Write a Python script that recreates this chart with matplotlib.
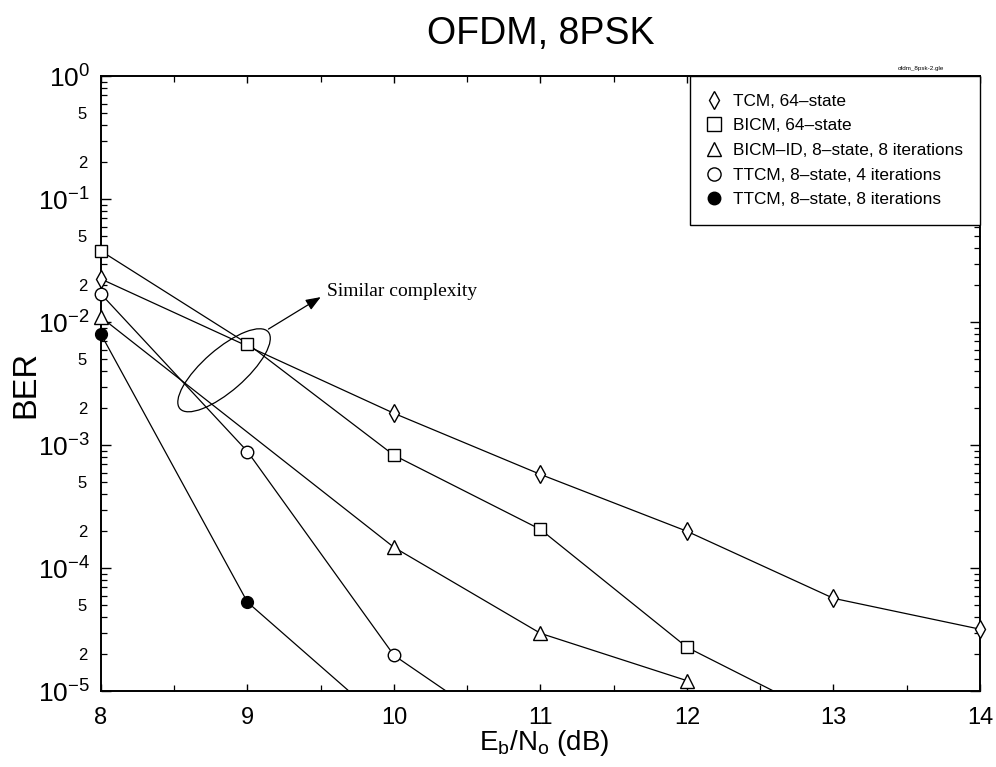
import matplotlib
matplotlib.use("Agg")
import matplotlib.pyplot as plt
import numpy as np
from matplotlib.lines import Line2D
from matplotlib.patches import Ellipse
from matplotlib.ticker import FixedLocator, FixedFormatter
import matplotlib.transforms as mtransforms

plt.rcParams['font.family'] = ['Liberation Sans', 'DejaVu Sans']
plt.rcParams['mathtext.fontset'] = 'custom'
plt.rcParams['mathtext.rm'] = 'Liberation Sans'
plt.rcParams['mathtext.it'] = 'Liberation Sans'
plt.rcParams['mathtext.bf'] = 'Liberation Sans:bold'

# Eb/No (dB) and BER for each scheme
snr_tcm = [8, 10, 11, 12, 13, 14]
ber_tcm = [2.25e-2, 1.82e-3, 5.8e-4, 2.0e-4, 5.7e-5, 3.2e-5]

snr_bicm = [8, 9, 10, 11, 12, 13]
ber_bicm = [3.8e-2, 6.7e-3, 8.3e-4, 2.07e-4, 2.28e-5, 5.7e-6]

snr_bicmid = [8, 10, 11, 12]
ber_bicmid = [1.1e-2, 1.48e-4, 2.96e-5, 1.22e-5]

snr_ttcm4 = [8, 9, 10, 11]
ber_ttcm4 = [1.7e-2, 8.9e-4, 1.96e-5, 3.0e-6]

snr_ttcm8 = [8, 9, 10]
ber_ttcm8 = [8.0e-3, 5.3e-5, 4.8e-6]

labels = ["TCM, 64\u2013state",
          "BICM, 64\u2013state",
          "BICM\u2013ID, 8\u2013state, 8 iterations",
          "TTCM, 8\u2013state, 4 iterations",
          "TTCM, 8\u2013state, 8 iterations"]

series = [
    (snr_tcm, ber_tcm, 'd', 'white', 8.8),
    (snr_bicm, ber_bicm, 's', 'white', 9),
    (snr_bicmid, ber_bicmid, '^', 'white', 9.5),
    (snr_ttcm4, ber_ttcm4, 'o', 'white', 9),
    (snr_ttcm8, ber_ttcm8, 'o', 'black', 8.5),
]

fig = plt.figure(figsize=(9.96, 7.67), dpi=100)
ax = fig.add_axes([0.1014, 0.0987, 0.8825, 0.8018])

ymin, ymax = 1e-5, 1.0
xmin, xmax = 8, 14

for x, y, m, fc, ms in series:
    x = np.asarray(x, float)
    y = np.asarray(y, float)
    ax.plot(x, y, color='black', lw=0.9, zorder=2)
    keep = (y >= ymin) & (y <= ymax) & (x >= xmin) & (x <= xmax)
    ax.plot(x[keep], y[keep], linestyle='none', marker=m, markersize=ms,
            markerfacecolor=fc, markeredgecolor='black', markeredgewidth=1.0,
            clip_on=False, zorder=3)

ax.set_yscale('log')
ax.set_xlim(xmin, xmax)
ax.set_ylim(ymin, ymax)

# axes styling
for s in ax.spines.values():
    s.set_linewidth(1.4)

ax.set_xticks([8, 9, 10, 11, 12, 13, 14])
ax.set_xticks(np.arange(8.5, 14, 1.0), minor=True)
ax.set_xticklabels(['8', '9', '10', '11', '12', '13', '14'], fontsize=17)

major_y = [1e-5, 1e-4, 1e-3, 1e-2, 1e-1, 1e0]
ax.yaxis.set_major_locator(FixedLocator(major_y))
ax.yaxis.set_major_formatter(FixedFormatter(
    [r'$10^{-5}$', r'$10^{-4}$', r'$10^{-3}$', r'$10^{-2}$', r'$10^{-1}$', r'$10^{0}$']))
minor_y = []
minor_lab = []
for e in range(-5, 0):
    for k in range(2, 10):
        minor_y.append(k * 10.0 ** e)
        minor_lab.append(str(k) if k in (2, 5) else '')
ax.yaxis.set_minor_locator(FixedLocator(minor_y))
ax.yaxis.set_minor_formatter(FixedFormatter(minor_lab))

ax.tick_params(axis='y', which='major', labelsize=19, direction='in', length=7,
               width=1.0, right=True, pad=8)
ax.tick_params(axis='y', which='minor', labelsize=12, direction='in', length=4,
               width=0.9, right=True, pad=10)
ax.tick_params(axis='x', which='major', direction='in', length=5, width=1.0,
               top=True, pad=11)
ax.tick_params(axis='x', which='minor', direction='in', length=4, width=0.9,
               top=True)

# axis titles placed in figure coordinates
fig.text(544 / 996, 1 - 750 / 767, r'E$_\mathregular{b}$/N$_\mathregular{o}$ (dB)',
         fontsize=20, ha='center', va='baseline')
fig.text(26 / 996, 1 - 385 / 767, 'BER', fontsize=23.5, rotation=90,
         ha='center', va='center')
fig.text(0.5425, 0.956, 'OFDM, 8PSK', ha='center', va='center', fontsize=27)
fig.text(0.925, 0.911, 'ofdm_8psk-2.gle', ha='center', va='center', fontsize=4.5)

# legend
handles = [Line2D([], [], linestyle='none', marker=m,
                  markersize=(ms + 0.5),
                  markerfacecolor=fc, markeredgecolor='black', markeredgewidth=1.0)
           for _, _, m, fc, ms in series]
leg = ax.legend(handles, labels, loc='upper right', borderaxespad=0,
                fancybox=False, framealpha=1, edgecolor='black', fontsize=12.4,
                handlelength=0.8, handletextpad=0.7, labelspacing=0.56,
                borderpad=1.0)
leg.get_frame().set_linewidth(1.0)

# annotation: ellipse around the 9 dB crossing and arrow to label
trans = fig.dpi_scale_trans + mtransforms.ScaledTranslation(0.140, 0.522, ax.transAxes)
ell = Ellipse((0, 0), 1.17, 0.42, angle=41, transform=trans, fill=False,
              edgecolor='black', lw=0.9, zorder=4)
ax.add_patch(ell)
ax.annotate('', xy=(0.250, 0.641), xycoords='axes fraction',
            xytext=(0.1905, 0.589), textcoords='axes fraction',
            arrowprops=dict(arrowstyle='-|>,head_length=0.9,head_width=0.35',
                            color='black', lw=0.9, shrinkA=0, shrinkB=0))
ax.text(0.257, 0.650, 'Similar complexity', transform=ax.transAxes,
        fontsize=14, family='Liberation Serif', ha='left', va='center')

fig.savefig('out.png', dpi=100)
